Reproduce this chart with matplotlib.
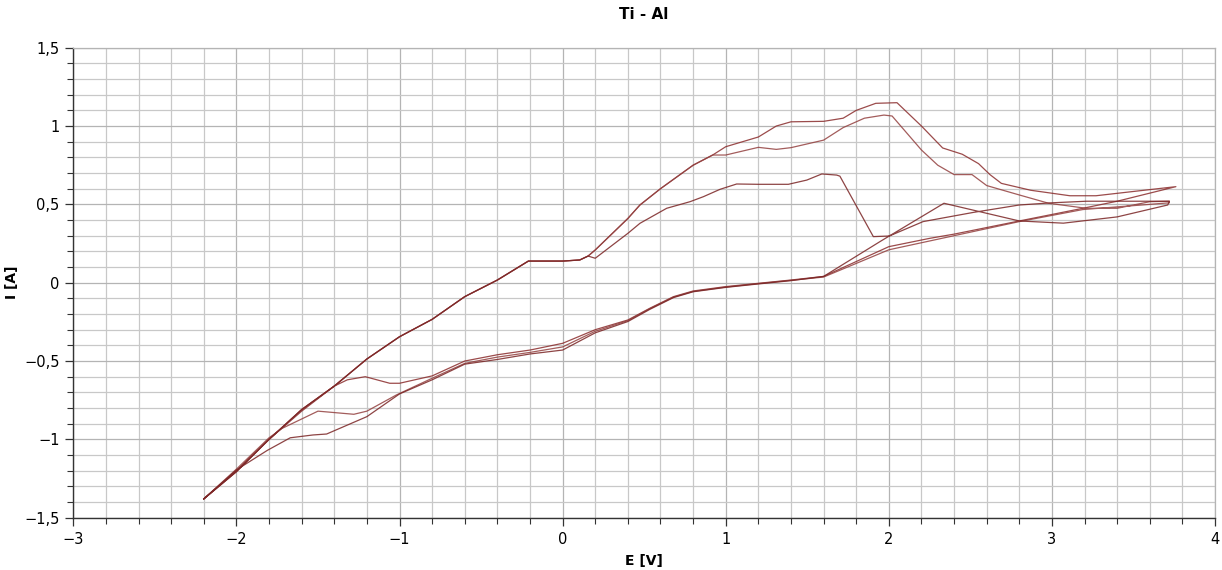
import matplotlib
matplotlib.use("Agg")
import matplotlib.pyplot as plt
from matplotlib.ticker import MultipleLocator, FuncFormatter

# forward sweep, shared by all three cycles (-2.2 V up to ~0.15 V)
e_up_common = [-2.2, -2.0, -1.8, -1.6, -1.4, -1.2, -1.0, -0.8, -0.6, -0.4, -0.21, 0.0, 0.105, 0.156]
i_up_common = [-1.38, -1.206, -1.0, -0.81, -0.66, -0.487, -0.345, -0.234, -0.089, 0.017, 0.138, 0.138, 0.145, 0.17]

# forward sweep, cycle A (highest peak)
e_up_a = [0.2, 0.4, 0.474, 0.6, 0.8, 0.92, 1.0, 1.2, 1.31, 1.4, 1.6, 1.72, 1.8, 1.92, 2.05,
          2.2, 2.33, 2.45, 2.55, 2.62, 2.69, 2.87, 3.11, 3.27, 3.48, 3.76]
i_up_a = [0.209, 0.41, 0.496, 0.6, 0.75, 0.815, 0.868, 0.93, 1.0, 1.027, 1.03, 1.05, 1.1, 1.145, 1.149,
          1.0, 0.86, 0.82, 0.76, 0.69, 0.634, 0.59, 0.555, 0.555, 0.58, 0.613]

# forward sweep, cycle B
e_up_b = [0.2, 0.4, 0.474, 0.6, 0.8, 0.92, 1.0, 1.2, 1.31, 1.4, 1.6, 1.72, 1.85, 1.97, 2.02,
          2.2, 2.3, 2.4, 2.51, 2.6, 2.8, 2.98, 3.21, 3.4, 3.6, 3.72]
i_up_b = [0.209, 0.41, 0.496, 0.6, 0.75, 0.815, 0.815, 0.864, 0.851, 0.862, 0.91, 0.99, 1.05, 1.07, 1.064,
          0.847, 0.75, 0.69, 0.69, 0.62, 0.56, 0.507, 0.475, 0.475, 0.517, 0.52]

# forward sweep, cycle C (lower hump with sudden drop)
e_up_c = [0.2, 0.4, 0.474, 0.638, 0.781, 0.863, 0.965, 1.067, 1.2, 1.384, 1.497, 1.589, 1.68, 1.70,
          1.905, 2.003, 2.21, 2.52, 2.8, 3.0, 3.21, 3.6, 3.72]
i_up_c = [0.156, 0.315, 0.379, 0.475, 0.517, 0.549, 0.596, 0.63, 0.628, 0.628, 0.655, 0.694, 0.687, 0.68,
          0.294, 0.298, 0.39, 0.449, 0.496, 0.51, 0.52, 0.52, 0.52]

# reverse sweeps, upper right part
e_dn_a = [3.76, 3.4, 3.19, 2.8, 2.4, 2.25, 2.0, 1.6]
i_dn_a = [0.613, 0.52, 0.475, 0.394, 0.31, 0.283, 0.23, 0.04]
e_dn_b = [3.72, 3.6, 3.19, 2.8, 2.4, 2.0, 1.6]
i_dn_b = [0.51, 0.50, 0.467, 0.39, 0.30, 0.21, 0.036]
e_dn_c = [3.71, 3.4, 3.07, 2.8, 2.338, 1.95, 1.6]
i_dn_c = [0.496, 0.42, 0.38, 0.394, 0.507, 0.265, 0.04]

# reverse sweeps, middle part (nearly overlapping)
e_mid = [1.4, 1.2, 1.0, 0.8, 0.68, 0.535, 0.4, 0.2, 0.0, -0.2, -0.4, -0.6, -0.8]
i_mid_a = [0.017, -0.004, -0.025, -0.053, -0.089, -0.163, -0.238, -0.30, -0.387, -0.43, -0.46, -0.50, -0.595]
i_mid_b = [0.015, -0.006, -0.028, -0.056, -0.092, -0.166, -0.242, -0.31, -0.41, -0.445, -0.475, -0.515, -0.61]
i_mid_c = [0.013, -0.008, -0.03, -0.058, -0.095, -0.17, -0.248, -0.32, -0.43, -0.455, -0.49, -0.52, -0.62]

# reverse sweeps, lower left tails
e_tail_a = [-1.0, -1.06, -1.21, -1.32, -1.4, -1.6, -1.8, -2.0, -2.2]
i_tail_a = [-0.642, -0.642, -0.60, -0.62, -0.66, -0.82, -1.0, -1.2, -1.38]
e_tail_b = [-1.02, -1.2, -1.28, -1.5, -1.72, -1.8, -2.0, -2.2]
i_tail_b = [-0.717, -0.82, -0.84, -0.82, -0.93, -0.99, -1.19, -1.38]
e_tail_c = [-1.0, -1.2, -1.447, -1.53, -1.67, -1.81, -2.0, -2.2]
i_tail_c = [-0.71, -0.855, -0.966, -0.972, -0.99, -1.07, -1.195, -1.38]

cycles = [
    (e_up_a, i_up_a, e_dn_a, i_dn_a, i_mid_a, e_tail_a, i_tail_a),
    (e_up_b, i_up_b, e_dn_b, i_dn_b, i_mid_b, e_tail_b, i_tail_b),
    (e_up_c, i_up_c, e_dn_c, i_dn_c, i_mid_c, e_tail_c, i_tail_c),
]
line_colors = ["#8a2c2c", "#93403f", "#7a2424"]

fig = plt.figure(figsize=(12.22, 5.70), dpi=100)
ax = fig.add_axes([0.06, 0.0918, 0.9343, 0.8245])

for (e_up, i_up, e_dn, i_dn, i_mid, e_tail, i_tail), col in zip(cycles, line_colors):
    e = e_up_common + e_up + e_dn + e_mid + e_tail
    i = i_up_common + i_up + i_dn + i_mid + i_tail
    ax.plot(e, i, color=col, lw=0.9, alpha=0.85, zorder=3)

ax.set_xlim(-3, 4)
ax.set_ylim(-1.5, 1.5)
ax.xaxis.set_major_locator(MultipleLocator(1))
ax.xaxis.set_minor_locator(MultipleLocator(0.2))
ax.yaxis.set_major_locator(MultipleLocator(0.5))
ax.yaxis.set_minor_locator(MultipleLocator(0.1))


def comma(v, pos):
    s = "%g" % round(v, 2)
    return s.replace(".", ",").replace("-", "\u2212")


ax.xaxis.set_major_formatter(FuncFormatter(comma))
ax.yaxis.set_major_formatter(FuncFormatter(comma))

ax.grid(which="major", color="#b4b4b4", lw=0.9)
ax.grid(which="minor", color="#c8c8c8", lw=0.9)
ax.set_axisbelow(True)

for side in ["top", "right"]:
    ax.spines[side].set_color("#b4b4b4")
    ax.spines[side].set_linewidth(0.9)
for side in ["left", "bottom"]:
    ax.spines[side].set_color("#333333")
    ax.spines[side].set_linewidth(1.0)

ax.tick_params(which="major", length=6, width=0.9, color="#333333", labelsize=10.5, pad=4)
ax.tick_params(which="minor", length=4, width=0.8, color="#333333")

ax.set_title("Ti - Al", fontsize=11, fontweight="bold", pad=21)
ax.set_xlabel("E [V]", fontsize=10, fontweight="bold", labelpad=5)
ax.set_ylabel("I [A]", fontsize=10, fontweight="bold")
ax.yaxis.set_label_coords(-0.048, 0.5)

fig.savefig("out.png", dpi=100)
